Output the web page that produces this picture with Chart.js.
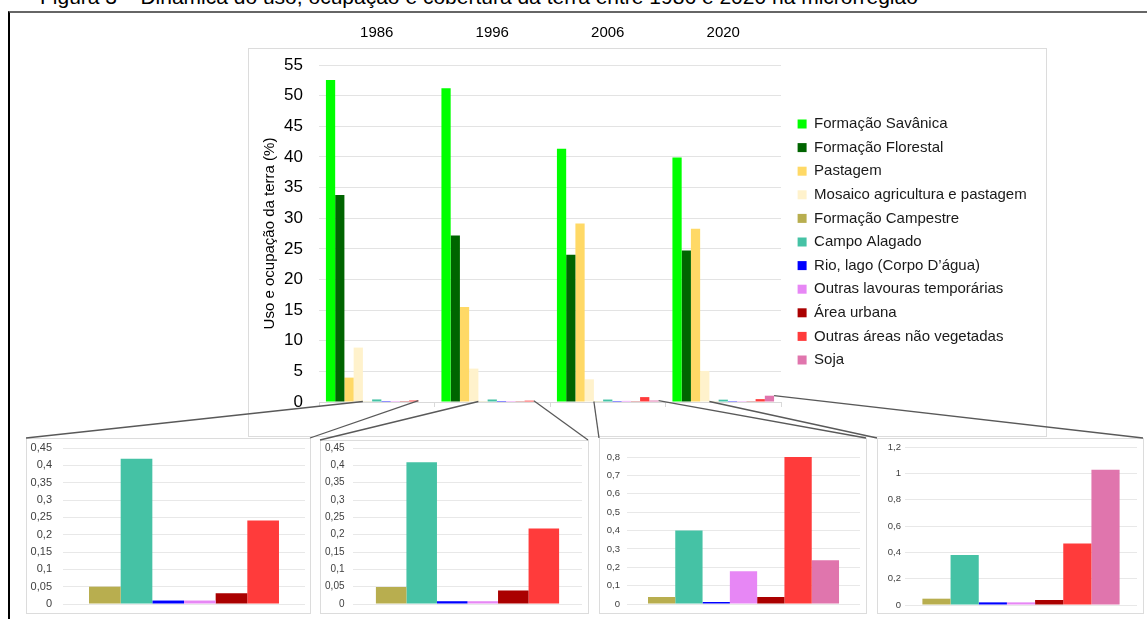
<!DOCTYPE html>
<html lang="pt-BR">
<head>
<meta charset="utf-8">
<title>Uso e ocupação da terra</title>
<script src="https://cdn.jsdelivr.net/npm/chart.js@4.4.1/dist/chart.umd.min.js"></script>
<style>
    html, body { margin: 0; padding: 0; width: 1147px; height: 619px; overflow: hidden; background: #fff; }
    #legenda { position: absolute; left: 40px; top: -14px; font: 21px 'Liberation Sans', Arial, sans-serif; line-height: 21px; white-space: nowrap; color: #000; }
    #moldura { position: absolute; left: 8px; top: 11px; width: 1160px; height: 620px; border-left: 2px solid #000; border-top: 2px solid #666; }
    .caixa { position: absolute; box-sizing: border-box; border: 1px solid #dcdcdc; background: #fff; }
    .caixa canvas { position: absolute; left: 0; top: 0; }
    #caixaPrincipal { left: 248px; top: 48px; width: 799px; height: 389px; }
    #graficoPrincipal { position: absolute; left: 248px; top: 18px; }
    #tracos { position: absolute; left: 0; top: 0; pointer-events: none; }
</style>
</head>
<body>
<div id="legenda">Figura 3 – Dinâmica do uso, ocupação e cobertura da terra entre 1986 e 2020 na microrregião</div>
<div id="moldura"></div>
<div id="caixaPrincipal" class="caixa"></div>
<canvas id="graficoPrincipal" width="781" height="418"></canvas>
<div id="zoom0" class="caixa"><canvas></canvas></div>
<div id="zoom1" class="caixa"><canvas></canvas></div>
<div id="zoom2" class="caixa"><canvas></canvas></div>
<div id="zoom3" class="caixa"><canvas></canvas></div>
<canvas id="tracos" width="1147" height="619"></canvas>
<script>
// dados (%)
var anos = ['1986', '1996', '2006', '2020'];
var classes = ['Formação Savânica', 'Formação Florestal', 'Pastagem', 'Mosaico agricultura e pastagem',
    'Formação Campestre', 'Campo Alagado', 'Rio, lago (Corpo D’água)', 'Outras lavouras temporárias',
    'Área urbana', 'Outras áreas não vegetadas', 'Soja'];
var savanica = [52.56, 51.2, 41.34, 39.92];
var florestal = [33.77, 27.18, 24.02, 24.73];
var pastagem = [3.98, 15.52, 29.14, 28.27];
var mosaico = [8.88, 5.45, 3.7, 5.07];
var campestre = [0.05, 0.049, 0.038, 0.048];
var campoAlagado = [0.419, 0.409, 0.40, 0.379];
var rioLago = [0.01, 0.008, 0.011, 0.02];
var outrasLavouras = [0.01, 0.008, 0.178, 0.02];
var areaUrbana = [0.031, 0.039, 0.038, 0.038];
var outrasNaoVegetadas = [0.241, 0.218, 0.80, 0.468];
var soja = [0, 0, 0.238, 1.028];
var series = [savanica, florestal, pastagem, mosaico, campestre, campoAlagado, rioLago,
    outrasLavouras, areaUrbana, outrasNaoVegetadas, soja];

// eixos
var maxPrincipal = 55;
var passoPrincipal = 5;
var maxZoom = [0.45, 0.45, 0.8, 1.2];
var passoZoom = [0.05, 0.05, 0.1, 0.2];

var cores = ['#00ff00', '#006400', '#ffd966', '#fff2cc', '#b8ae4f', '#45c2a5', '#0000ff',
    '#e787f5', '#aa0000', '#ff3b3b', '#e075ad'];

// caixas dos detalhes (eixo = largura do eixo y)
var caixasZoom = [
    {left: 26, top: 438, width: 285, height: 176, eixo: 36, pad: {left: 0, right: 5, top: 9, bottom: 9}, tickPad: 11, fonte: 11, cat: 0.785},
    {left: 320, top: 440, width: 269, height: 174, eixo: 32, pad: {left: 0, right: 6, top: 7, bottom: 9}, tickPad: 8.5, fonte: 10, cat: 0.80},
    {left: 599, top: 438, width: 268, height: 176, eixo: 27, pad: {left: 0, right: 6, top: 18, bottom: 9}, tickPad: 7, fonte: 9.5, cat: 0.82},
    {left: 877, top: 438, width: 267, height: 176, eixo: 27, pad: {left: 0, right: 6, top: 8, bottom: 8}, tickPad: 4, fonte: 9.5, cat: 0.85}
];

Chart.defaults.font.family = "'Liberation Sans', Arial, sans-serif";
Chart.defaults.color = '#1a1a1a';

function virgula(v) {
    return String(Math.round(v * 1000) / 1000).replace('.', ',');
}

function fixarLargura(largura) {
    return function (escala) {
        escala.width = largura;
        escala.paddingTop = 0;
        escala.paddingBottom = 0;
    };
}

function fixarAltura(altura) {
    return function (escala) {
        escala.height = altura;
        escala.paddingLeft = 0;
        escala.paddingRight = 0;
    };
}

var graficoPrincipal = null;

function initPrincipal() {
    var datasets = classes.map(function (nome, i) {
        return {
            label: nome,
            data: series[i],
            backgroundColor: cores[i],
            categoryPercentage: 0.88,
            barPercentage: 1
        };
    });
    graficoPrincipal = new Chart(document.getElementById('graficoPrincipal'), {
        type: 'bar',
        data: {labels: anos, datasets: datasets},
        options: {
            responsive: false,
            animation: false,
            layout: {padding: {left: 13, top: 6, right: 0, bottom: 29}},
            plugins: {
                tooltip: {enabled: false},
                legend: {
                    position: 'right',
                    align: 'start',
                    maxWidth: 240,
                    title: {display: true, text: '', padding: {top: 69.5, bottom: 0}},
                    labels: {boxWidth: 9, boxHeight: 9, padding: 8.6, color: '#1a1a1a', font: {size: 15}}
                }
            },
            scales: {
                x: {
                    position: 'top',
                    grid: {display: false, drawTicks: false},
                    border: {display: false},
                    ticks: {color: '#000', font: {size: 15}, padding: 23},
                    afterFit: fixarAltura(41)
                },
                x2: {
                    type: 'category',
                    position: 'bottom',
                    labels: anos,
                    offset: true,
                    grid: {offset: true, drawOnChartArea: false, drawTicks: true, tickLength: 5, color: '#d9d9d9'},
                    border: {color: '#d9d9d9'},
                    ticks: {display: false},
                    afterFit: fixarAltura(5)
                },
                y: {
                    min: 0,
                    max: maxPrincipal,
                    ticks: {stepSize: passoPrincipal, color: '#000', font: {size: 17}, padding: 16},
                    grid: {color: '#e3e3e3', drawTicks: false},
                    border: {display: false},
                    title: {display: true, text: 'Uso e ocupação da terra (%)', color: '#000', font: {size: 15}, padding: {top: 0, bottom: 5}},
                    afterFit: fixarLargura(58)
                },
                y2: {
                    position: 'right',
                    grid: {display: false},
                    border: {display: false},
                    ticks: {display: false},
                    afterFit: fixarLargura(8)
                }
            }
        }
    });
}

function initZoom(k) {
    var c = caixasZoom[k];
    var caixa = document.getElementById('zoom' + k);
    caixa.style.left = c.left + 'px';
    caixa.style.top = c.top + 'px';
    caixa.style.width = c.width + 'px';
    caixa.style.height = c.height + 'px';
    var canvas = caixa.querySelector('canvas');
    canvas.width = c.width - 2;
    canvas.height = c.height - 2;
    var datasets = [];
    for (var i = 4; i < series.length; i++) {
        if (series[i][k] > 0) {
            datasets.push({
                label: classes[i],
                data: [series[i][k]],
                backgroundColor: cores[i],
                categoryPercentage: c.cat,
                barPercentage: 1
            });
        }
    }
    new Chart(canvas, {
        type: 'bar',
        data: {labels: [anos[k]], datasets: datasets},
        options: {
            responsive: false,
            animation: false,
            layout: {padding: c.pad},
            plugins: {legend: {display: false}, tooltip: {enabled: false}},
            scales: {
                x: {display: false},
                y: {
                    min: 0,
                    max: maxZoom[k],
                    ticks: {stepSize: passoZoom[k], color: '#404040', font: {size: c.fonte}, padding: c.tickPad, callback: virgula},
                    grid: {color: '#e8e8e8', drawTicks: false},
                    border: {display: false},
                    afterFit: fixarLargura(c.eixo)
                }
            }
        }
    });
}

function linha(ctx, x0, y0, x1, y1) {
    ctx.beginPath();
    ctx.moveTo(x0, y0);
    ctx.lineTo(x1, y1);
    ctx.stroke();
}

// traços que ligam as barras pequenas aos detalhes
function tracarLigacoes() {
    var ctx = document.getElementById('tracos').getContext('2d');
    var cv = document.getElementById('graficoPrincipal');
    var ox = cv.offsetLeft, oy = cv.offsetTop;
    ctx.strokeStyle = '#595959';
    ctx.lineWidth = 1.3;
    anos.forEach(function (ano, k) {
        var primeira = graficoPrincipal.getDatasetMeta(4).data[k];
        var ultima = primeira;
        for (var i = series.length - 1; i >= 4; i--) {
            if (series[i][k] > 0) {
                ultima = graficoPrincipal.getDatasetMeta(i).data[k];
                break;
            }
        }
        var caixa = document.getElementById('zoom' + k);
        var xe = caixa.offsetLeft, xd = caixa.offsetLeft + caixa.offsetWidth - 1, yt = caixa.offsetTop;
        linha(ctx, xe, yt, ox + primeira.x - primeira.width / 2, oy + primeira.base);
        linha(ctx, xd, yt, ox + ultima.x + ultima.width / 2, oy + ultima.y);
    });
}

initPrincipal();
for (var k = 0; k < anos.length; k++) {
    initZoom(k);
}
tracarLigacoes();
</script>
</body>
</html>
